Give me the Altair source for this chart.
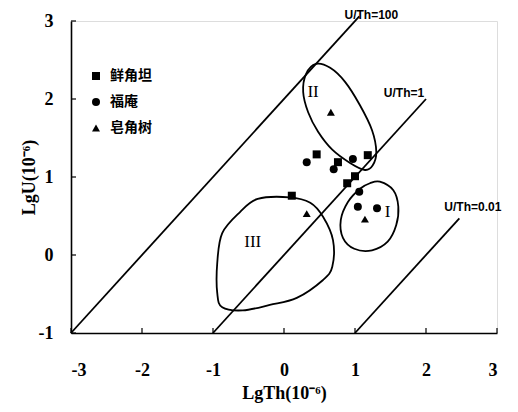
import altair as alt
import pandas as pd

# ---- data ----
series_names = ["鲜角坦", "福庵", "皂角树"]
sq_x = [0.46, 0.76, 1.18, 1.00, 0.89, 0.11]
sq_y = [1.29, 1.19, 1.28, 1.01, 0.92, 0.76]
ci_x = [0.32, 0.97, 0.70, 1.06, 1.04, 1.31]
ci_y = [1.19, 1.23, 1.10, 0.81, 0.62, 0.60]
tr_x = [0.66, 0.32, 1.14]
tr_y = [1.83, 0.53, 0.46]

# reference lines (U/Th ratios), endpoints
ref_names = ["U/Th=100", "U/Th=1", "U/Th=0.01"]
ref_x0 = [-3.0, -1.0, 1.0]
ref_y0 = [-1.0, -1.0, -1.0]
ref_x1 = [1.06, 2.0, 2.47]
ref_y1 = [3.06, 2.0, 0.47]
ref_lab_x = [1.23, 1.69, 2.66]
ref_lab_y = [3.08, 2.08, 0.62]

# hand-drawn field outlines
f1_x = [1.35, 1.54, 1.61, 1.58, 1.46, 1.24, 0.99, 0.83, 0.80, 0.90, 1.07, 1.21]
f1_y = [0.94, 0.83, 0.62, 0.38, 0.17, 0.06, 0.08, 0.22, 0.45, 0.68, 0.85, 0.92]
f2_x = [0.45, 0.31, 0.27, 0.34, 0.48, 0.68, 0.93, 1.14, 1.25, 1.30, 1.24, 1.07, 0.86, 0.65]
f2_y = [2.45, 2.32, 2.09, 1.83, 1.58, 1.35, 1.18, 1.09, 1.15, 1.32, 1.60, 1.92, 2.22, 2.40]
f3_x = [-0.37, 0.08, 0.37, 0.55, 0.69, 0.68, 0.55, 0.18, -0.20, -0.58, -0.87, -0.94, -0.94, -0.87, -0.62]
f3_y = [0.72, 0.74, 0.67, 0.49, 0.19, -0.15, -0.32, -0.55, -0.64, -0.71, -0.67, -0.49, -0.10, 0.28, 0.55]
field_labels = ["I", "II", "III"]
field_lab_x = [1.46, 0.41, -0.44]
field_lab_y = [0.55, 2.09, 0.17]

x_ticks = [-3, -2, -1, 0, 1, 2, 3]
y_ticks = [-1, 0, 1, 2, 3]

# ---- tables ----
pts = pd.DataFrame(
    [{"x": a, "y": b, "s": series_names[0]} for a, b in zip(sq_x, sq_y)]
    + [{"x": a, "y": b, "s": series_names[1]} for a, b in zip(ci_x, ci_y)]
    + [{"x": a, "y": b, "s": series_names[2]} for a, b in zip(tr_x, tr_y)]
)
refs = pd.DataFrame(
    [{"x": x0, "y": y0, "g": n, "o": 0} for n, x0, y0 in zip(ref_names, ref_x0, ref_y0)]
    + [{"x": x1, "y": y1, "g": n, "o": 1} for n, x1, y1 in zip(ref_names, ref_x1, ref_y1)]
)
ref_lab = pd.DataFrame({"x": ref_lab_x, "y": ref_lab_y, "t": ref_names})
fields = []
for name, xs_, ys_ in [("I", f1_x, f1_y), ("II", f2_x, f2_y), ("III", f3_x, f3_y)]:
    for i, (a, b) in enumerate(zip(xs_, ys_)):
        fields.append({"x": a, "y": b, "g": name, "o": i})
fields = pd.DataFrame(fields)
flab = pd.DataFrame({"x": field_lab_x, "y": field_lab_y, "t": field_labels})
xt = pd.DataFrame({"v": x_ticks})
yt = pd.DataFrame({"v": y_ticks})

W, H = 426, 312
xs = alt.Scale(domain=[-3, 3], nice=False, zero=False)
ys = alt.Scale(domain=[-1, 3], nice=False, zero=False)

axis_common = dict(
    domainColor="black", domainWidth=1.6, ticks=False, tickSize=0, grid=False,
    labelExpr="datum.value + ''",
    labelFont="Liberation Serif", labelFontSize=18, labelFontWeight="bold", labelColor="black",
    titleFont="Liberation Serif", titleFontSize=18, titleFontWeight="bold", titleColor="black",
)
X = alt.X("x:Q", scale=xs, axis=alt.Axis(values=x_ticks, title="LgTh(10⁻⁶)", labelPadding=28,
                                          titlePadding=5, **axis_common))
Y = alt.Y("y:Q", scale=ys, axis=alt.Axis(values=y_ticks, title="LgU(10⁻⁶)", labelPadding=18,
                                          titlePadding=0, **axis_common))

points = alt.Chart(pts).mark_point(filled=True, size=64, opacity=1, color="black").encode(
    x=X, y=Y,
    shape=alt.Shape("s:N", scale=alt.Scale(domain=series_names, range=["square", "circle", "triangle-up"]),
                    legend=alt.Legend(title=None, orient="none", legendX=18, legendY=48,
                                      labelFont="Noto Sans CJK SC", labelFontSize=14, labelFontWeight="bold",
                                      labelColor="black", symbolSize=64, rowPadding=12,
                                      symbolFillColor="black", symbolStrokeColor="black", labelOffset=7)),
)

ref_lines = alt.Chart(refs).mark_line(color="black", strokeWidth=1.8).encode(
    x=alt.X("x:Q", scale=xs), y=alt.Y("y:Q", scale=ys), detail="g:N", order="o:Q")
ref_text = alt.Chart(ref_lab).mark_text(font="Liberation Sans", fontSize=12, fontWeight="bold",
                                        color="black").encode(
    x=alt.X("x:Q", scale=xs), y=alt.Y("y:Q", scale=ys), text="t:N")

field_lines = alt.Chart(fields).mark_line(color="black", strokeWidth=1.8, interpolate="cardinal-closed").encode(
    x=alt.X("x:Q", scale=xs), y=alt.Y("y:Q", scale=ys), detail="g:N", order="o:Q")
field_text = alt.Chart(flab).mark_text(font="Liberation Serif", fontSize=17, color="black").encode(
    x=alt.X("x:Q", scale=xs), y=alt.Y("y:Q", scale=ys), text="t:N")

xtick = alt.Chart(xt).mark_rule(color="black", strokeWidth=1.2).encode(
    x=alt.X("v:Q", scale=xs), y=alt.value(H), y2=alt.value(H - 5))
ytick = alt.Chart(yt).mark_rule(color="black", strokeWidth=1.2).encode(
    y=alt.Y("v:Q", scale=ys), x=alt.value(0), x2=alt.value(5))

chart = alt.layer(field_lines, ref_lines, xtick, ytick, points, ref_text, field_text).properties(
    width=W, height=H,
    autosize=alt.AutoSizeParams(type="none"),
    padding={"left": 63, "top": 13, "right": 12, "bottom": 70},
).configure_view(stroke=None).configure(background="white")

chart.save("out.html", embed_options={"renderer": "svg", "actions": False})
